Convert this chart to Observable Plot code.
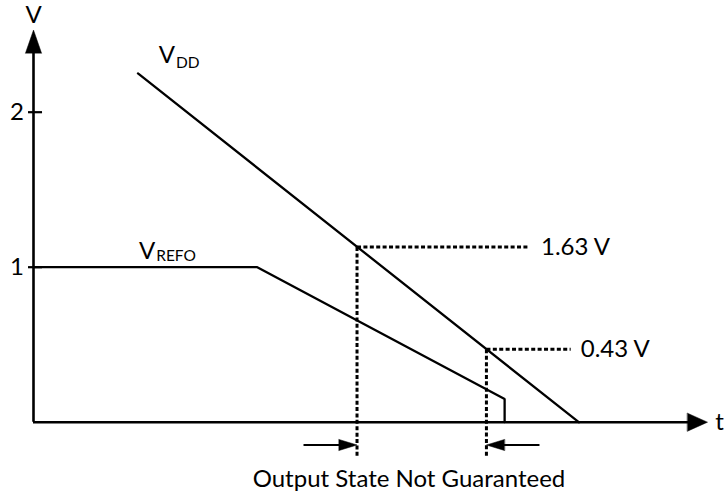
<!DOCTYPE html>
<html>
<head>
<meta charset="utf-8">
<script src="https://cdn.jsdelivr.net/npm/d3@7"></script>
<script src="https://cdn.jsdelivr.net/npm/@observablehq/plot@0.6"></script>
<style>
  html, body { margin: 0; padding: 0; background: #fff; }
  #chart svg { display: block; }
</style>
</head>
<body>
<div id="chart"></div>
<script>
// ---- data (schematic units: t along x, V along y) ----
const vddT = [1.55, 8.09];
const vddV = [2.25, 0];
const vrefoT = [0, 3.32, 6.99, 6.99];
const vrefoV = [1, 1, 0.15, 0];
const thresholdT = [4.80, 6.72];
const thresholdV = [1.13, 0.47];
const thresholdLabels = ["1.63 V", "0.43 V"];
const yTicks = [1, 2];
const yTickLabels = ["1", "2"];
const axisMaxT = 10;
const axisMaxV = 2.53;

// ---- build tables ----
const vdd = vddT.map((t, i) => ({t, v: vddV[i]}));
const vrefo = vrefoT.map((t, i) => ({t, v: vrefoV[i]}));
const dashEnds = [7.36, 7.97];
const labelStarts = [7.53, 8.12];
const thresholds = thresholdT.map((t, i) => ({t, v: thresholdV[i], label: thresholdLabels[i], end: dashEnds[i], lx: labelStarts[i]}));
const ticks = yTicks.map((v, i) => ({v, label: yTickLabels[i]}));

const bottomV = -0.228;
const indicatorV = -0.147;

const triangle = {
  draw(context, l, r) {
    context.moveTo(-r, 0);
    context.lineTo(0, -l);
    context.lineTo(r, 0);
    context.closePath();
  }
};

const dash = "4,2.4";
const font = "Lato, 'Open Sans', sans-serif";

const chart = Plot.plot({
  width: 728,
  height: 499,
  margin: 0,
  style: {fontFamily: font, fontSize: "24px", color: "#000", background: "#fff"},
  x: {domain: [0, axisMaxT], range: [33, 707], axis: null},
  y: {domain: [0, 2], range: [421.7, 111.7], axis: null},
  marks: [
    // axes
    Plot.ruleX([0], {y1: 0, y2: axisMaxV - 0.12, stroke: "#000", strokeWidth: 2.6}),
    Plot.ruleY([0], {x1: 0, x2: axisMaxT - 0.25, stroke: "#000", strokeWidth: 2.6}),
    Plot.vector([0], {x: 0, y: axisMaxV, anchor: "end", rotate: 0, length: 23, r: 8, shape: triangle, fill: "#000", stroke: "#000", strokeWidth: 0.5}),
    Plot.vector([0], {x: axisMaxT, y: 0, anchor: "end", rotate: 90, length: 20, r: 9, shape: triangle, fill: "#000", stroke: "#000", strokeWidth: 0.5}),
    // y ticks
    Plot.ruleY(ticks, {y: "v", x1: -0.074, x2: 0.134, stroke: "#000", strokeWidth: 2.2}),
    Plot.text(ticks, {x: 0, y: "v", text: "label", dx: -16.5, textAnchor: "middle"}),
    // axis labels
    Plot.text(["V"], {x: 0, y: 2.627, text: d => d, textAnchor: "middle"}),
    Plot.text(["t"], {x: 10.18, y: 0, text: d => d, textAnchor: "middle"}),
    // curves
    Plot.line(vdd, {x: "t", y: "v", stroke: "#000", strokeWidth: 2.3}),
    Plot.line(vrefo, {x: "t", y: "v", stroke: "#000", strokeWidth: 2.3, strokeLinejoin: "miter"}),
    // curve labels
    Plot.text(["V"], {x: 1.86, y: 2.368, text: d => d, textAnchor: "start"}),
    Plot.text(["DD"], {x: 2.115, y: 2.318, text: d => d, textAnchor: "start", fontSize: 15.5}),
    Plot.text(["V"], {x: 1.565, y: 1.105, text: d => d, textAnchor: "start"}),
    Plot.text(["REFO"], {x: 1.82, y: 1.072, text: d => d, textAnchor: "start", fontSize: 15.5}),
    // threshold dotted guides
    Plot.link(thresholds, {x1: "t", x2: "end", y1: "v", y2: "v", stroke: "#000", strokeWidth: 3, strokeDasharray: dash}),
    Plot.link(thresholds, {x1: "t", x2: "t", y1: "v", y2: bottomV, stroke: "#000", strokeWidth: 3, strokeDasharray: dash}),
    Plot.text(thresholds, {x: "lx", y: "v", text: "label", textAnchor: "start"}),
    // indicator arrows
    Plot.link([0], {x1: 4.006, x2: thresholdT[0] - 0.2, y1: indicatorV, y2: indicatorV, stroke: "#000", strokeWidth: 2.2}),
    Plot.vector([0], {x: thresholdT[0], y: indicatorV, anchor: "end", rotate: 90, length: 18, r: 5.5, shape: triangle, fill: "#000", stroke: "#000", strokeWidth: 0.5}),
    Plot.link([0], {x1: 7.507, x2: thresholdT[1] + 0.2, y1: indicatorV, y2: indicatorV, stroke: "#000", strokeWidth: 2.2}),
    Plot.vector([0], {x: thresholdT[1], y: indicatorV, anchor: "end", rotate: -90, length: 18, r: 5.5, shape: triangle, fill: "#000", stroke: "#000", strokeWidth: 0.5}),
    Plot.text(["Output State Not Guaranteed"], {x: 5.571, y: -0.37, text: d => d, textAnchor: "middle"})
  ]
});

document.getElementById("chart").appendChild(chart);
</script>
</body>
</html>
